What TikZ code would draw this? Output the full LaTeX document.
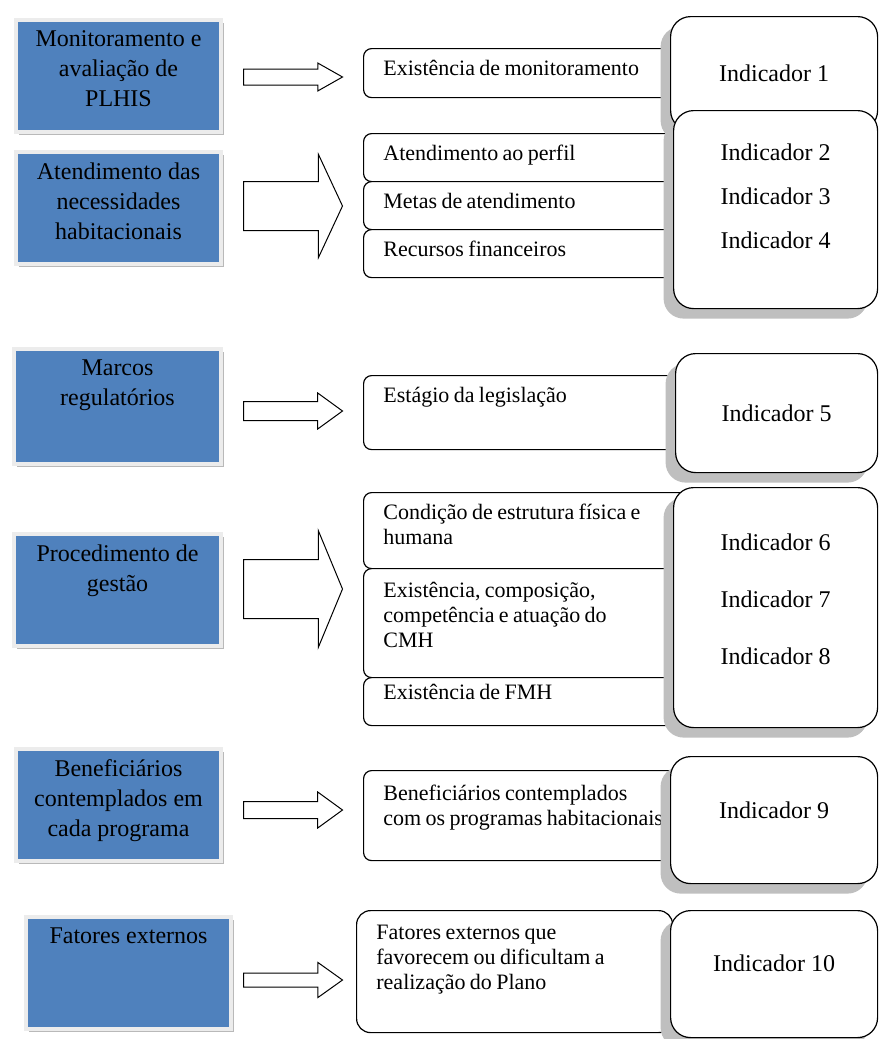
\documentclass[tikz,border=0pt]{standalone}
\usepackage{fontspec}
\setmainfont{Liberation Serif}
\usetikzlibrary{shapes.arrows,shadows}
\definecolor{boxblue}{RGB}{79,129,189}

\begin{document}
\begin{tikzpicture}[
  x=0.5pt, y=-0.5pt,
  theme/.style    = {rectangle, fill=boxblue, draw=gray!15, line width=2pt, anchor=north west,
                     minimum width=102.5pt, minimum height=56pt, inner sep=0pt,
                     drop shadow={shadow xshift=1.5pt, shadow yshift=-1.5pt, fill=gray!55, opacity=1}},
  themetxt/.style = {anchor=north, inner sep=0pt, yshift=-6pt, align=center,
                     font=\fontsize{12}{15}\selectfont},
  item/.style     = {rectangle, rounded corners=4pt, draw=black, line width=0.6pt, fill=white,
                     anchor=north west, inner sep=0pt, minimum width=168.5pt},
  itemtxt/.style  = {anchor=north west, inner sep=0pt, xshift=10pt, yshift=-6pt, align=left,
                     font=\fontsize{11}{12.5}\selectfont,
                     execute at begin node={\spaceskip=2.2pt plus 1pt\relax}},
  indic/.style    = {rectangle, rounded corners=10pt, draw=black, line width=0.6pt, fill=white,
                     anchor=north west, inner sep=0pt, align=center, font=\fontsize{12}{14}\selectfont,
                     drop shadow={shadow xshift=-5pt, shadow yshift=-5pt, fill=gray!50, opacity=1}},
  blockarrow/.style = {single arrow, draw=black, fill=white, line width=0.5pt, inner sep=0pt,
                     minimum height=49.5pt, anchor=tail}
]
\useasboundingbox (0,0) rectangle (879,1039);

% themes
\node[theme] (monit)   at (14,18)  {};
\node[theme] (atend)   at (14,150) {};
\node[theme, minimum width=103.5pt, minimum height=57.5pt] (marcos) at (12,347) {};
\node[theme, minimum width=103.5pt] (proced)  at (12,532) {};
\node[theme] (benef)   at (14,747) {};
\node[theme] (fatores) at (24,915) {};

\node[themetxt] (monitT)   at (monit.north)   {Monitoramento e\\avaliação de\\PLHIS};
\node[themetxt] (atendT)   at (atend.north)   {Atendimento das\\necessidades\\habitacionais};
\node[themetxt] (marcosT)  at (marcos.north)  {Marcos\\regulatórios};
\node[themetxt] (procedT)  at (proced.north)  {Procedimento de\\gestão};
\node[themetxt] (benefT)   at (benef.north)   {Beneficiários\\contemplados em\\cada programa};
\node[themetxt] (fatoresT) at (fatores.north) {Fatores externos};

% block arrows
\node[blockarrow, inner ysep=3.75pt, single arrow head extend=3pt,    single arrow tip angle=59]  (arrA) at (243,77)  {};
\node[blockarrow, inner ysep=12pt,   single arrow head extend=13.5pt, single arrow tip angle=130] (arrB) at (243,206) {};
\node[blockarrow, inner ysep=4.5pt,  single arrow head extend=4.25pt, single arrow tip angle=72]  (arrC) at (243,411) {};
\node[blockarrow, inner ysep=14.5pt, single arrow head extend=14.5pt, single arrow tip angle=135] (arrD) at (243,589) {};
\node[blockarrow, inner ysep=4pt,    single arrow head extend=4.75pt, single arrow tip angle=72]  (arrE) at (243,810) {};
\node[blockarrow, inner ysep=3.25pt, single arrow head extend=5.25pt, single arrow tip angle=71]  (arrF) at (243,980) {};

% items
\node[item, minimum height=24.5pt] (exmon)  at (363,48)  {};
\node[item, minimum height=24pt]   (perfil) at (363,133) {};
\node[item, minimum height=24pt]   (metas)  at (363,181) {};
\node[item, minimum height=24pt]   (recur)  at (363,229) {};
\node[item, minimum height=37pt]   (legis)  at (363,375) {};
\node[item, minimum height=38pt]   (cond)   at (363,492) {};
\node[item, minimum height=54.5pt] (cmh)    at (363,568) {};
\node[item, minimum height=24pt]   (fmh)    at (363,677) {};
\node[item, minimum height=45pt]   (progr)  at (363,770) {};
\node[item, minimum height=61pt, minimum width=158pt, rounded corners=7pt] (extern) at (356,910) {};

\node[itemtxt] (exmonT)  at (exmon.north west)  {Existência de monitoramento};
\node[itemtxt] (perfilT) at (perfil.north west) {Atendimento ao perfil};
\node[itemtxt] (metasT)  at (metas.north west)  {Metas de atendimento};
\node[itemtxt] (recurT)  at (recur.north west)  {Recursos financeiros};
\node[itemtxt] (legisT)  at (legis.north west)  {Estágio da legislação};
\node[itemtxt] (condT)   at (cond.north west)   {Condição de estrutura física e\\humana};
\node[itemtxt, yshift=-1pt] (cmhT) at (cmh.north west) {Existência, composição,\\competência e atuação do\\CMH};
\node[itemtxt, yshift=2.5pt] (fmhT) at (fmh.north west) {Existência de FMH};
\node[itemtxt, yshift=-1.5pt] (progrT) at (progr.north west) {Beneficiários contemplados\\com os programas habitacionais};
\node[itemtxt, yshift=-1.5pt] (externT) at (extern.north west) {Fatores externos que\\favorecem ou dificultam a\\realização do Plano};

% indicators
\node[indic, minimum width=103.5pt, minimum height=57pt]   (ind1)  at (670,16)  {Indicador 1};
\node[indic, minimum width=102pt,   minimum height=99pt, text depth=13pt] (ind2) at (673,110) {Indicador 2\\[8pt]Indicador 3\\[8pt]Indicador 4};
\node[indic, minimum width=101pt,   minimum height=59.5pt] (ind5)  at (675,353) {Indicador 5};
\node[indic, minimum width=102pt,   minimum height=120pt, text depth=8pt] (ind6) at (673,487) {Indicador 6\\[14.5pt]Indicador 7\\[14.5pt]Indicador 8};
\node[indic, minimum width=103.5pt, minimum height=63.5pt, text depth=10pt] (ind9)  at (670,756) {Indicador 9};
\node[indic, minimum width=103.5pt, minimum height=63.5pt, text depth=11pt] (ind10) at (670,910) {Indicador 10};

\end{tikzpicture}
\end{document}
